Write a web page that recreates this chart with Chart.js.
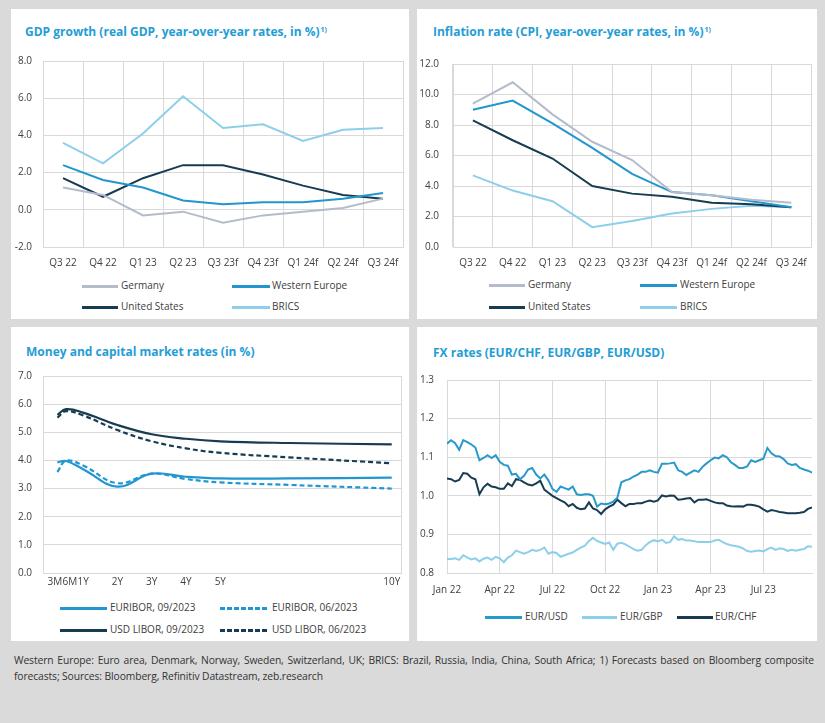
<!DOCTYPE html>
<html><head><meta charset="utf-8">
<script src="https://cdn.jsdelivr.net/npm/chart.js@4.4.0/dist/chart.umd.min.js"></script>
<style>
html,body{margin:0;padding:0;}
body{background:#dadada;width:825px;height:723px;position:relative;overflow:hidden;font-family:'Open Sans',sans-serif;}
.panel{position:absolute;background:#fff;}
.title{position:absolute;font-weight:bold;font-size:12px;line-height:14px;color:#249dd5;white-space:nowrap;}
.title sup{font-size:7px;vertical-align:top;position:relative;top:-2px;margin-left:1px;}
canvas{position:absolute;}
.lgi{position:absolute;font-size:10px;line-height:12px;color:#404040;white-space:nowrap;}
.lgs{position:absolute;}
#foot{position:absolute;left:14px;top:652px;width:800px;font-size:10.3px;letter-spacing:-0.1px;line-height:16px;color:#333;text-align:justify;font-family:'Open Sans',sans-serif;}
</style></head>
<body>
<div class="panel" style="left:11px;top:9px;width:398px;height:310px"></div>
<div class="panel" style="left:417px;top:9px;width:400px;height:310px"></div>
<div class="panel" style="left:11px;top:327px;width:398px;height:314px"></div>
<div class="panel" style="left:417px;top:327px;width:400px;height:314px"></div>

<div class="title" style="left:25px;top:25px">GDP growth (real GDP, year-over-year rates, in %)<sup>1)</sup></div>
<div class="title" style="left:433px;top:25px">Inflation rate (CPI, year-over-year rates, in %)<sup>1)</sup></div>
<div class="title" style="left:26px;top:345px">Money and capital market rates (in %)</div>
<div class="title" style="left:433px;top:346px">FX rates (EUR/CHF, EUR/GBP, EUR/USD)</div>

<canvas id="c1" width="398" height="230" style="left:11px;top:44px"></canvas>
<canvas id="c2" width="400" height="230" style="left:417px;top:44px"></canvas>
<canvas id="c3" width="398" height="234" style="left:11px;top:359px"></canvas>
<canvas id="c4" width="400" height="237" style="left:417px;top:361px"></canvas>

<div id="foot">Western Europe: Euro area, Denmark, Norway, Sweden, Switzerland, UK; BRICS: Brazil, Russia, India, China, South Africa; 1) Forecasts based on Bloomberg composite forecasts; Sources: Bloomberg, Refinitiv Datastream, zeb.research</div>

<script>
// ---------- DATA ----------
const quarters = ['Q3 22','Q4 22','Q1 23','Q2 23','Q3 23f','Q4 23f','Q1 24f','Q2 24f','Q3 24f'];

const gdpGermany       = [1.2, 0.8, -0.3, -0.1, -0.7, -0.3, -0.1, 0.1, 0.6];
const gdpWesternEurope = [2.4, 1.6, 1.2, 0.5, 0.3, 0.4, 0.4, 0.6, 0.9];
const gdpUnitedStates  = [1.7, 0.7, 1.7, 2.4, 2.4, 1.9, 1.3, 0.8, 0.6];
const gdpBRICS         = [3.6, 2.5, 4.1, 6.1, 4.4, 4.6, 3.7, 4.3, 4.4];

const cpiGermany       = [9.4, 10.8, 8.7, 6.9, 5.7, 3.6, 3.4, 3.1, 2.9];
const cpiWesternEurope = [9.0, 9.6, 8.1, 6.5, 4.8, 3.6, 3.4, 3.0, 2.6];
const cpiUnitedStates  = [8.3, 7.0, 5.8, 4.0, 3.5, 3.3, 2.9, 2.8, 2.6];
const cpiBRICS         = [4.7, 3.7, 3.0, 1.3, 1.7, 2.2, 2.5, 2.7, 2.6];

const tenorYears      = [0.25, 0.5, 1, 2, 3, 4, 5, 7, 10];
const tenorTickYears  = [0.25, 0.5, 1, 2, 3, 4, 5, 10];
const tenorTickLabels = ['3M','6M','1Y','2Y','3Y','4Y','5Y','10Y'];
const euribor092023   = [3.93, 3.98, 3.69, 3.07, 3.53, 3.42, 3.36, 3.36, 3.39];
const euribor062023   = [3.59, 3.99, 3.82, 3.19, 3.53, 3.34, 3.22, 3.13, 3.00];
const usdLibor092023  = [5.62, 5.82, 5.70, 5.26, 4.93, 4.77, 4.68, 4.62, 4.57];
const usdLibor062023  = [5.52, 5.75, 5.60, 5.08, 4.68, 4.43, 4.27, 4.11, 3.90];

// weekly observations, first week of Jan 2022 onwards
const fxTickLabels = ['Jan 22','Apr 22','Jul 22','Oct 22','Jan 23','Apr 23','Jul 23'];
const eurUsd = [1.135,1.144,1.136,1.119,1.144,1.139,1.133,1.125,1.092,1.098,
  1.105,1.098,1.105,1.088,1.080,1.078,1.055,1.057,1.043,1.052,
  1.068,1.072,1.055,1.045,1.055,1.040,1.018,1.010,1.024,1.020,
  1.016,1.024,1.004,1.002,1.004,1.004,1.000,0.972,0.980,0.978,
  0.980,0.985,0.995,1.035,1.040,1.043,1.050,1.055,1.062,1.062,
  1.066,1.062,1.060,1.083,1.083,1.084,1.086,1.066,1.062,1.054,
  1.060,1.066,1.062,1.075,1.084,1.092,1.099,1.097,1.105,1.100,
  1.087,1.080,1.072,1.072,1.076,1.092,1.088,1.092,1.096,1.124,
  1.110,1.103,1.102,1.095,1.084,1.080,1.082,1.072,1.068,1.065,1.060];
const eurGbp = [0.836,0.836,0.838,0.834,0.846,0.840,0.835,0.838,0.830,0.837,
  0.840,0.834,0.842,0.838,0.828,0.840,0.846,0.858,0.854,0.850,
  0.854,0.860,0.857,0.860,0.866,0.850,0.854,0.852,0.842,0.846,
  0.850,0.853,0.860,0.866,0.871,0.883,0.891,0.883,0.879,0.875,
  0.879,0.860,0.876,0.878,0.874,0.868,0.862,0.858,0.860,0.872,
  0.880,0.885,0.882,0.886,0.878,0.880,0.895,0.886,0.888,0.884,
  0.884,0.882,0.880,0.880,0.880,0.880,0.884,0.886,0.880,0.875,
  0.872,0.870,0.868,0.864,0.857,0.855,0.857,0.858,0.856,0.862,
  0.866,0.860,0.864,0.862,0.857,0.860,0.858,0.860,0.862,0.869,0.868];
const eurChf = [1.045,1.043,1.037,1.041,1.059,1.057,1.047,1.043,1.004,1.022,
  1.031,1.024,1.022,1.018,1.018,1.032,1.025,1.043,1.041,1.035,
  1.029,1.027,1.032,1.039,1.016,1.008,1.000,0.994,0.988,0.983,
  0.973,0.979,0.969,0.965,0.967,0.983,0.967,0.963,0.953,0.965,
  0.972,0.977,0.990,0.981,0.973,0.979,0.979,0.981,0.981,0.985,
  0.988,0.985,0.988,1.001,0.998,1.001,1.000,0.990,0.991,0.993,
  0.994,0.983,0.990,0.990,0.991,0.987,0.983,0.981,0.981,0.975,
  0.973,0.972,0.973,0.972,0.977,0.977,0.975,0.972,0.965,0.959,
  0.963,0.961,0.958,0.957,0.955,0.955,0.955,0.956,0.958,0.966,0.970];

// ---------- STYLE ----------
const GRID = '#d9d9d9';
const COL = {germany:'#b4bccc', we:'#2196cf', us:'#173c52', brics:'#8dcfeb'};
Chart.defaults.font.family = "'Open Sans', sans-serif";
Chart.defaults.font.size = 10;
Chart.defaults.color = '#404040';

function ds(label, data, color, opts) {
  return Object.assign({label, data, borderColor: color, backgroundColor: color,
    borderWidth: 2, pointRadius: 0, fill: false, tension: 0}, opts || {});
}
function baseOpts(padding) {
  return {responsive:false, animation:false, devicePixelRatio:1,
    layout:{padding}, plugins:{legend:{display:false}, tooltip:{enabled:false}, title:{display:false}}};
}
function quarterChart(id, series, yMin, yMax, yWidth, yPad, padRight) {
  const o = baseOpts({top:10, right:padRight, left:0, bottom:0});
  o.scales = {
    x:{offset:true, grid:{offset:true, color:GRID, drawTicks:false}, border:{color:GRID},
       ticks:{padding:10, maxRotation:0, minRotation:0, autoSkip:false}, afterFit:s=>{s.height=27;}},
    y:{min:yMin, max:yMax, ticks:{stepSize:2, padding:yPad, callback:v=>Number(v).toFixed(1)},
       grid:{color:GRID, drawTicks:false}, border:{color:GRID}, afterFit:s=>{s.width=yWidth;}}
  };
  new Chart(document.getElementById(id), {type:'line', data:{labels:quarters, datasets:series}, options:o});
}

quarterChart('c1', [
  ds('Germany', gdpGermany, COL.germany),
  ds('Western Europe', gdpWesternEurope, COL.we),
  ds('United States', gdpUnitedStates, COL.us),
  ds('BRICS', gdpBRICS, COL.brics)], -2, 8, 32, 11, 6);

quarterChart('c2', [
  ds('Germany', cpiGermany, COL.germany),
  ds('Western Europe', cpiWesternEurope, COL.we),
  ds('United States', cpiUnitedStates, COL.us),
  ds('BRICS', cpiBRICS, COL.brics)], 0, 12, 36, 14, 5);

// Money and capital market rates
(function(){
  const o = baseOpts({top:10, right:8, left:0, bottom:0});
  const shift = {'3M':'3M  ', '6M':'   6M'};
  o.scales = {
    x:{type:'linear', min:-0.17, max:10.27,
       afterBuildTicks:s=>{ s.ticks = tenorTickYears.map(v=>({value:v})); },
       ticks:{padding:3, autoSkip:false, maxRotation:0, minRotation:0,
              callback:(v,i)=>{ const l = tenorTickLabels[i]; return shift[l] || l; }},
       grid:{display:false, drawTicks:false}, border:{display:false},
       afterFit:s=>{s.height=20;}},
    y:{min:0, max:7, ticks:{stepSize:1, padding:11, callback:v=>Number(v).toFixed(1)},
       grid:{color:GRID, drawTicks:false}, border:{color:GRID}, afterFit:s=>{s.width=32;}},
    yr:{position:'right', ticks:{display:false}, grid:{display:false, drawTicks:false},
        border:{display:true, color:GRID}, afterFit:s=>{s.width=0;}}
  };
  const t = {tension:0.4, borderWidth:2.2};
  new Chart(document.getElementById('c3'), {type:'line', data:{labels:tenorYears, datasets:[
    ds('EURIBOR, 09/2023', euribor092023, COL.we, t),
    ds('EURIBOR, 06/2023', euribor062023, COL.we, Object.assign({borderDash:[5,3]}, t)),
    ds('USD LIBOR, 09/2023', usdLibor092023, COL.us, t),
    ds('USD LIBOR, 06/2023', usdLibor062023, COL.us, Object.assign({borderDash:[5,3]}, t))
  ]}, options:o});
})();

// FX rates
(function(){
  const o = baseOpts({top:10, right:5, left:0, bottom:0});
  o.scales = {
    x:{type:'linear', min:0, max:eurUsd.length-1,
       afterBuildTicks:s=>{ s.ticks = fxTickLabels.map((_,i)=>({value:i*13})); },
       ticks:{padding:11, autoSkip:false, maxRotation:0, minRotation:0, callback:(v,i)=>fxTickLabels[i]},
       grid:{color:GRID, drawTicks:false}, border:{color:GRID}, afterFit:s=>{s.height=25;}},
    y:{min:0.8, max:1.3, ticks:{stepSize:0.1, padding:13, callback:v=>Number(v).toFixed(1)},
       grid:{color:GRID, drawTicks:false}, border:{color:GRID}, afterFit:s=>{s.width=30;}}
  };
  new Chart(document.getElementById('c4'), {type:'line', data:{labels:eurUsd.map((_,i)=>i), datasets:[
    ds('EUR/USD', eurUsd, '#2899cc'),
    ds('EUR/GBP', eurGbp, COL.brics),
    ds('EUR/CHF', eurChf, COL.us)
  ]}, options:o});
})();

// ---------- HTML legends ----------
function legendItem(label, color, x, y, w, textX, dashed, thick) {
  const s = document.createElement('div');
  s.className = 'lgs';
  const h = thick || 3;
  s.style.cssText = `left:${x}px;top:${y - h/2}px;width:${w}px;height:${h}px;` +
    (dashed ? `background:repeating-linear-gradient(to right, ${color} 0 5px, transparent 5px 7px);`
            : `background:${color};`);
  document.body.appendChild(s);
  const t = document.createElement('div');
  t.className = 'lgi';
  t.textContent = label;
  t.style.left = textX + 'px';
  t.style.top = (y - 7) + 'px';
  document.body.appendChild(t);
}
legendItem('Germany', COL.germany, 82, 286, 36, 121);
legendItem('Western Europe', COL.we, 232, 286, 38, 272);
legendItem('United States', COL.us, 82, 307, 36, 121);
legendItem('BRICS', COL.brics, 232, 307, 38, 272);

legendItem('Germany', COL.germany, 489, 285, 36, 528);
legendItem('Western Europe', COL.we, 640, 285, 37, 680);
legendItem('United States', COL.us, 489, 307, 36, 528);
legendItem('BRICS', COL.brics, 640, 307, 37, 680);

legendItem('EURIBOR, 09/2023', COL.we, 60, 608, 47, 110);
legendItem('EURIBOR, 06/2023', COL.we, 220, 608, 48, 272, true);
legendItem('USD LIBOR, 09/2023', COL.us, 60, 630, 47, 110);
legendItem('USD LIBOR, 06/2023', COL.us, 220, 630, 48, 272, true);

legendItem('EUR/USD', '#2899cc', 485, 617, 37, 525);
legendItem('EUR/GBP', COL.brics, 582, 617, 35, 620);
legendItem('EUR/CHF', COL.us, 677, 617, 36, 715);
</script>
</body></html>
